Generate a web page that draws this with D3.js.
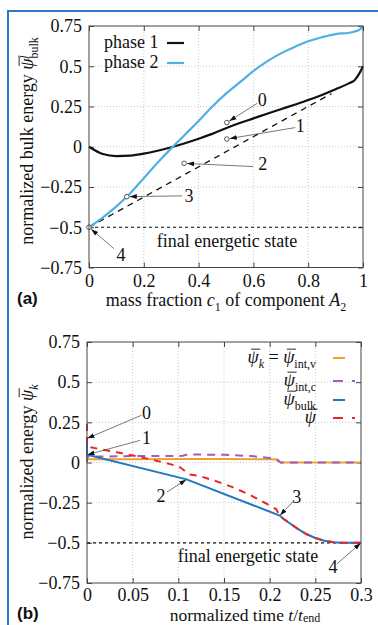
<!DOCTYPE html>
<html><head><meta charset="utf-8">
<script src="https://cdn.jsdelivr.net/npm/d3@7"></script>
<style>
body{margin:0;background:#fff}
svg{display:block}
text{font-family:"Liberation Serif","DejaVu Serif",serif;fill:#111}
</style>
</head><body>
<svg id="c" width="378" height="625" font-family="Liberation Serif, serif"></svg>
<script>
// ---------- DATA: panel (a) ----------
const massFraction = [0,0.05,0.1,0.15,0.2,0.25,0.3,0.35,0.4,0.45,0.5,0.55,0.6,0.65,0.7,0.75,0.8,0.85,0.9,0.95,0.97,0.99,1.0];
const phase1Energy = [0,-0.045,-0.058,-0.055,-0.043,-0.025,-0.003,0.022,0.05,0.08,0.115,0.147,0.176,0.205,0.233,0.261,0.29,0.322,0.357,0.395,0.415,0.465,0.5];
const phase2Energy = [-0.5,-0.44,-0.37,-0.29,-0.195,-0.1,-0.01,0.075,0.16,0.25,0.33,0.40,0.47,0.53,0.58,0.62,0.655,0.68,0.70,0.708,0.716,0.73,0.75];
const tangentC = [0, 0.885];
const tangentE = [-0.5, 0.33];
const stateLabelsA = ["0","1","2","3","4"];
const stateC = [0.503, 0.503, 0.347, 0.138, 0];
const stateE = [0.15, 0.048, -0.103, -0.31, -0.5];
// annotation label anchors (data units)
const labelAC = [0.632, 0.771, 0.634, 0.365, 0.117];
const labelAE = [0.289, 0.131, -0.107, -0.305, -0.670];
const arrowAC = [0.614, 0.753, 0.599, 0.340, 0.091];
const arrowAE = [0.270, 0.119, -0.123, -0.305, -0.633];
const legendA = ["phase 1","phase 2"];
const finalState = -0.5;
const energyTicks = [-0.75,-0.5,-0.25,0,0.25,0.5,0.75];
const energyTickLabels = ["\u22120.75","\u22120.5","\u22120.25","0","0.25","0.5","0.75"];
const massTicks = [0,0.2,0.4,0.6,0.8,1];
const massTickLabels = ["0","0.2","0.4","0.6","0.8","1"];

// ---------- DATA: panel (b) ----------
const tIntV = [0,0.05,0.1,0.15,0.2,0.209,0.212,0.25,0.3];
const eIntV = [0.02,0.021,0.022,0.022,0.02,0.018,0,0,0];
const tIntC = [0,0,0.01,0.05,0.1,0.105,0.11,0.15,0.18,0.205,0.208,0.212,0.3];
const eIntC = [0,0.035,0.037,0.04,0.04,0.042,0.05,0.048,0.04,0.025,0.015,0,0];
const tBulk = [0,0,0.109,0.211,0.215,0.22,0.23,0.24,0.25,0.26,0.27,0.28,0.3];
const eBulk = [0.15,0.048,-0.105,-0.33,-0.35,-0.37,-0.41,-0.445,-0.47,-0.487,-0.497,-0.5,-0.5];
const tTotal = [0,0,0.01,0.034,0.056,0.075,0.093,0.102,0.112,0.124,0.146,0.16,0.178,0.197,0.207,0.211,0.215,0.22,0.23,0.24,0.25,0.26,0.27,0.28,0.3];
const eTotal = [0.24,0.1,0.088,0.062,0.037,0.012,-0.013,-0.03,-0.075,-0.085,-0.125,-0.155,-0.2,-0.258,-0.29,-0.33,-0.35,-0.37,-0.41,-0.445,-0.47,-0.487,-0.497,-0.5,-0.5];
const stateLabelsB = ["0","1","2","3","4"];
const stateT = [0, 0, 0.109, 0.211, 0.3];
const stateEB = [0.15, 0.048, -0.105, -0.33, -0.5];
const labelBT = [0.0651, 0.0651, 0.081, 0.2296, 0.2694];
const labelBE = [0.306, 0.153, -0.206, -0.217, -0.65];
const arrowBT = [0.0597, 0.058, 0.0876, 0.2267, 0.2738];
const arrowBE = [0.294, 0.1375, -0.184, -0.2375, -0.63];
const timeTicks = [0,0.05,0.1,0.15,0.2,0.25,0.3];
const timeTickLabels = ["0","0.05","0.1","0.15","0.2","0.25","0.3"];

// ---------- helpers ----------
const svg = d3.select("#c");
const FS = 18, SFS = 12;
const frameCol = "#444";

svg.append("defs").append("marker")
  .attr("id","ah").attr("viewBox","0 0 10 10").attr("refX",10).attr("refY",5)
  .attr("markerWidth",7).attr("markerHeight",7).attr("markerUnits","userSpaceOnUse")
  .attr("orient","auto")
  .append("path").attr("d","M0,1.5L10,5L0,8.5Z").attr("fill","#111");

const PSI = "\u03C8"; // drawn with an overbar (macron) below
function mathText(parent, o){
  const fs = o.fs || FS;
  const g = parent.append("g");
  if(o.transform) g.attr("transform", o.transform);
  const t = g.append("text").attr("x",o.x||0).attr("y",o.y||0)
    .attr("text-anchor",o.anchor||"start").attr("font-size",fs);
  let shift = 0, idx = 0; const bars = [];
  o.parts.forEach(p=>{
    const ts = t.append("tspan").text(p.t);
    const target = p.s==="sub"?5:(p.s==="sup"?-7:0);
    const dy = (p.dy!==undefined?p.dy:target-shift);
    if(dy) ts.attr("dy",dy);
    shift = target;
    if(p.s) ts.attr("font-size",SFS);
    if(p.i) ts.attr("font-style","italic");
    if(p.dx) ts.attr("dx",p.dx);
    if(p.bar) bars.push(idx);
    idx += p.t.length;
  });
  bars.forEach(i=>{
    const e = t.node().getExtentOfChar(i);
    const yb = e.y + 0.12*fs;
    g.append("line").attr("x1",e.x+0.22*e.width+1.2).attr("x2",e.x+e.width+1.6)
      .attr("y1",yb).attr("y2",yb).attr("stroke","#111").attr("stroke-width",0.9);
  });
  return g;
}

function panel(cfg){
  const g = svg.append("g");
  const x = d3.scaleLinear().domain(cfg.xd).range([cfg.x0,cfg.x1]);
  const y = d3.scaleLinear().domain([-0.75,0.75]).range([cfg.y1,cfg.y0]);
  g.append("g").selectAll("line").data(cfg.xt.slice(1,-1)).join("line")
    .attr("x1",d=>x(d)).attr("x2",d=>x(d)).attr("y1",cfg.y0).attr("y2",cfg.y1)
    .attr("stroke","#bbb").attr("stroke-width",0.8).attr("stroke-dasharray","1,2");
  g.append("g").selectAll("line").data(energyTicks.slice(1,-1)).join("line")
    .attr("y1",d=>y(d)).attr("y2",d=>y(d)).attr("x1",cfg.x0).attr("x2",cfg.x1)
    .attr("stroke","#bbb").attr("stroke-width",0.8).attr("stroke-dasharray","1,2");
  const ax = (gen, tr, vals, labels, pad) => {
    const a = g.append("g").attr("transform",tr)
      .call(gen.tickValues(vals).tickSizeInner(-5).tickSizeOuter(0).tickPadding(pad)
        .tickFormat((d,i)=>labels?labels[i]:""));
    a.attr("font-family",null).attr("font-size",null);
    a.select(".domain").remove();
    a.selectAll(".tick line").attr("stroke",frameCol);
    a.selectAll("text").attr("font-size",FS).attr("fill","#111");
    return a;
  };
  ax(d3.axisLeft(y), `translate(${cfg.x0},0)`, energyTicks, energyTickLabels, 7);
  ax(d3.axisRight(y), `translate(${cfg.x1},0)`, energyTicks, null, 7);
  ax(d3.axisBottom(x), `translate(0,${cfg.y1})`, cfg.xt, cfg.xtl, cfg.xpad);
  ax(d3.axisTop(x), `translate(0,${cfg.y0})`, cfg.xt, null, 7);
  g.append("line").attr("x1",x(cfg.xd[0])).attr("x2",x(cfg.xd[1]))
    .attr("y1",y(finalState)).attr("y2",y(finalState))
    .attr("stroke","#111").attr("stroke-width",1.2).attr("stroke-dasharray","3,3");
  return {g,x,y};
}

function annot(g, x, y, tx, ty, lx, ly, ax_, ay_, labels, shorten){
  labels.forEach((lab,i)=>{
    const x1 = x(ax_[i]), y1 = y(ay_[i]);
    let x2 = x(tx[i]), y2 = y(ty[i]);
    const dx = x2-x1, dy = y2-y1, L = Math.hypot(dx,dy);
    x2 -= dx/L*shorten; y2 -= dy/L*shorten;
    g.append("line").attr("x1",x1).attr("y1",y1).attr("x2",x2).attr("y2",y2)
      .attr("stroke","#555").attr("stroke-width",0.8).attr("marker-end","url(#ah)");
    g.append("text").attr("x",x(lx[i])).attr("y",y(ly[i])).attr("dy","0.34em")
      .attr("text-anchor","middle").attr("font-size",FS).text(lab);
  });
}

// ---------- panel (a) ----------
const A = panel({x0:89,x1:363,y0:26,y1:267.5,xd:[0,1],xt:massTicks,xtl:massTickLabels,xpad:6.5});
const lineA = d3.line().x(d=>A.x(d[0])).y(d=>A.y(d[1])).curve(d3.curveMonotoneX);
A.g.append("path").datum(tangentC.map((c,i)=>[c,tangentE[i]]))
  .attr("d",d3.line().x(d=>A.x(d[0])).y(d=>A.y(d[1])))
  .attr("fill","none").attr("stroke","#111").attr("stroke-width",1.3).attr("stroke-dasharray","6,5");
A.g.append("path").datum(massFraction.map((c,i)=>[c,phase1Energy[i]]))
  .attr("d",lineA).attr("fill","none").attr("stroke","#111").attr("stroke-width",2.2);
A.g.append("path").datum(massFraction.map((c,i)=>[c,phase2Energy[i]]))
  .attr("d",lineA).attr("fill","none").attr("stroke","#4fb0e3").attr("stroke-width",2.2);
annot(A.g, A.x, A.y, stateC, stateE, labelAC, labelAE, arrowAC, arrowAE, stateLabelsA, 3);
A.g.selectAll("circle.st").data(stateC).join("circle").attr("class","st")
  .attr("cx",(d)=>A.x(d)).attr("cy",(d,i)=>A.y(stateE[i])).attr("r",2.3)
  .attr("fill","#fff").attr("stroke","#444").attr("stroke-width",0.9);
A.g.append("rect").attr("x",89).attr("y",26).attr("width",274).attr("height",241.5)
  .attr("fill","none").attr("stroke",frameCol).attr("stroke-width",1);
[["#111",43],["#4fb0e3",63]].forEach((d,i)=>{
  A.g.append("text").attr("x",104).attr("y",d[1]+5).attr("font-size",FS).text(legendA[i]);
  A.g.append("line").attr("x1",167).attr("x2",184).attr("y1",d[1]).attr("y2",d[1])
    .attr("stroke",d[0]).attr("stroke-width",2.2);
});
A.g.append("text").attr("x",227).attr("y",247).attr("text-anchor","middle").attr("font-size",FS)
  .text("final energetic state");
mathText(A.g,{x:226,y:306,anchor:"middle",parts:
  [{t:"mass fraction "},{t:"c",i:1},{t:"1",s:"sub"},{t:" of component "},{t:"A",i:1},{t:"2",s:"sub"}]});
mathText(A.g,{transform:"translate(33,141) rotate(-90)",anchor:"middle",parts:
  [{t:"normalized bulk energy "},{t:PSI,i:1,bar:1},{t:"j",i:1,s:"sup"},{t:"bulk",s:"sub",dx:-3.5,dy:12}]});
svg.append("text").attr("x",17).attr("y",304)
  .attr("font-weight","bold").attr("font-size",17).style("font-family","Liberation Sans, Arial, sans-serif").text("(a)");

// ---------- panel (b) ----------
const B = panel({x0:87,x1:361,y0:342,y1:583,xd:[0,0.3],xt:timeTicks,xtl:timeTickLabels,xpad:5.5});
const lineB = d3.line().x(d=>B.x(d[0])).y(d=>B.y(d[1]));
const series = [
  {t:tIntV,e:eIntV,c:"#f0a030",da:null},
  {t:tIntC,e:eIntC,c:"#9a5fc0",da:"8,6"},
  {t:tBulk,e:eBulk,c:"#1f78c0",da:null},
  {t:tTotal,e:eTotal,c:"#e8262a",da:"7,6"}
];
series.forEach(s=>{
  const p = B.g.append("path").datum(s.t.map((t,i)=>[t,s.e[i]]))
    .attr("d",lineB).attr("fill","none").attr("stroke",s.c).attr("stroke-width",2);
  if(s.da) p.attr("stroke-dasharray",s.da);
});
annot(B.g, B.x, B.y, stateT, stateEB, labelBT, labelBE, arrowBT, arrowBE, stateLabelsB, 0.5);
B.g.append("rect").attr("x",87).attr("y",342).attr("width",274).attr("height",241)
  .attr("fill","none").attr("stroke",frameCol).attr("stroke-width",1);
const legRows = [
  {y:358, parts:[{t:PSI,i:1,bar:1},{t:"k",i:1,s:"sub"},{t:" = "},{t:PSI,i:1,bar:1},{t:"int,v",s:"sub"}]},
  {y:381, parts:[{t:PSI,i:1,bar:1},{t:"int,c",s:"sub"}]},
  {y:400, parts:[{t:PSI,i:1,bar:1},{t:"bulk",s:"sub"}]},
  {y:418, parts:[{t:PSI,i:1,bar:1}]}
];
legRows.forEach((r,i)=>{
  mathText(B.g,{x:316,y:r.y+5,anchor:"end",parts:r.parts});
  const s = series[i];
  const l = B.g.append("line").attr("x1",333).attr("x2",s.da?355:345).attr("y1",r.y).attr("y2",r.y)
    .attr("stroke",s.c).attr("stroke-width",2);
  if(s.da) l.attr("stroke-dasharray","10,9");
});
B.g.append("text").attr("x",248).attr("y",562).attr("text-anchor","middle").attr("font-size",FS)
  .text("final energetic state");
mathText(B.g,{x:245,y:621,fs:17.5,anchor:"middle",parts:
  [{t:"normalized time "},{t:"t",i:1},{t:"/"},{t:"t",i:1},{t:"end",s:"sub",dy:1}]});
mathText(B.g,{transform:"translate(33,462) rotate(-90)",anchor:"middle",parts:
  [{t:"normalized energy "},{t:PSI,i:1,bar:1},{t:"k",i:1,s:"sub"}]});
svg.append("text").attr("x",17).attr("y",619)
  .attr("font-weight","bold").attr("font-size",17).style("font-family","Liberation Sans, Arial, sans-serif").text("(b)");

svg.append("path").attr("d","M8,625V11H378").attr("fill","none").attr("stroke","#2a7ac4").attr("stroke-width",2);
</script>
</body></html>
